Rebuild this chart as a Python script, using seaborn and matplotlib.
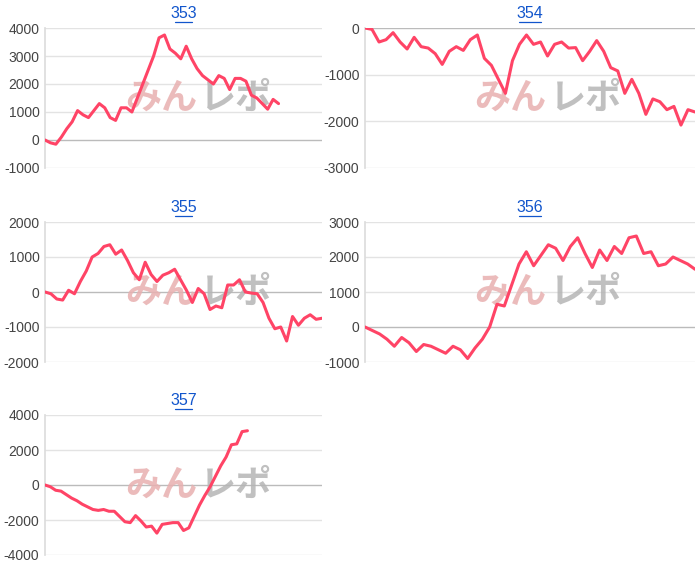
import matplotlib
matplotlib.use("Agg")
import matplotlib.pyplot as plt
import seaborn as sns
import pandas as pd

titles = ["353", "354", "355", "356", "357"]
s353 = [0, -100, -150, 100, 400, 650, 1050, 900, 800, 1050, 1300, 1150, 800, 700, 1150, 1150, 1000, 1500, 2000, 2500, 3000, 3650, 3750, 3250, 3100, 2900, 3350, 2900, 2550, 2300, 2150, 2000, 2300, 2200, 1800, 2200, 2200, 2100, 1600, 1500, 1300, 1100, 1450, 1300]
s354 = [0, -30, -300, -250, -100, -300, -450, -200, -400, -430, -550, -780, -500, -400, -480, -250, -150, -650, -800, -1100, -1400, -700, -350, -150, -350, -300, -600, -350, -300, -430, -420, -700, -500, -270, -500, -850, -920, -1400, -1100, -1400, -1850, -1520, -1580, -1750, -1680, -2080, -1750, -1800]
s355 = [0, -50, -200, -230, 50, -50, 300, 600, 1000, 1100, 1300, 1350, 1080, 1200, 900, 550, 350, 850, 500, 300, 480, 550, 650, 350, 50, -300, 100, -50, -500, -400, -450, 200, 200, 350, 0, -30, -50, -300, -750, -1050, -1000, -1400, -700, -950, -750, -650, -780, -750]
s356 = [0, -100, -200, -350, -550, -300, -450, -700, -500, -550, -650, -750, -550, -650, -900, -600, -350, 0, 650, 600, 1200, 1800, 2150, 1750, 2050, 2350, 2250, 1900, 2300, 2550, 2100, 1700, 2200, 1900, 2300, 2100, 2550, 2600, 2100, 2150, 1750, 1800, 2000, 1900, 1800, 1650]
s357 = [0, -100, -300, -350, -550, -750, -900, -1100, -1250, -1400, -1450, -1400, -1500, -1500, -1800, -2100, -2150, -1750, -2050, -2400, -2350, -2750, -2250, -2200, -2150, -2150, -2600, -2450, -1800, -1150, -600, -100, 500, 1100, 1600, 2300, 2350, 3050, 3100]
series = [s353, s354, s355, s356, s357]
ylims = [(-1000, 4000), (-3000, 0), (-2000, 2000), (-1000, 3000), (-4000, 4000)]
yticks = [[-1000, 0, 1000, 2000, 3000, 4000], [-3000, -2000, -1000, 0],
          [-2000, -1000, 0, 1000, 2000], [-1000, 0, 1000, 2000, 3000],
          [-4000, -2000, 0, 2000, 4000]]
xmax = [51, 47, 47, 45, 52]

sns.set_theme(style="white")
plt.rcParams['font.family'] = ['Liberation Sans', 'Noto Sans CJK JP', 'DejaVu Sans']

W, H = 700, 579
fig = plt.figure(figsize=(7, 5.79), dpi=100)
boxes = [(45, 28, 322, 168), (365, 28, 695, 168),
         (45, 222, 322, 362), (365, 222, 695, 362),
         (45, 415, 322, 555)]
for i, (t, s) in enumerate(zip(titles, series)):
    x0, y0, x1, y1 = boxes[i]
    ax = fig.add_axes([x0 / W, 1 - y1 / H, (x1 - x0) / W, (y1 - y0) / H])
    df = pd.DataFrame({"x": range(len(s)), "y": s})
    lo, hi = ylims[i]
    for v in yticks[i]:
        ax.axhline(v, color="#bbbbbb" if v == 0 else "#e3e3e3", lw=1, zorder=0)
    ax.text(0.55, 0.5, "みん", transform=ax.transAxes, ha="right", va="center",
            fontsize=26, color="#e8b0b0", fontweight="bold", style="italic",
            family=['Noto Sans CJK JP'], alpha=0.85, zorder=1)
    ax.text(0.56, 0.5, "レポ", transform=ax.transAxes, ha="left", va="center",
            fontsize=26, color="#b5b5b5", fontweight="bold", style="italic",
            family=['Noto Sans CJK JP'], alpha=0.85, zorder=1)
    sns.lineplot(data=df, x="x", y="y", ax=ax, color="#ff4466", lw=2.2, zorder=3)
    ax.set_xlim(0, xmax[i])
    ax.set_ylim(lo, hi)
    ax.set_yticks(yticks[i])
    ax.set_yticklabels([str(v) for v in yticks[i]], fontsize=10, color="#444444")
    ax.set_xticks([])
    ax.set_xlabel("")
    ax.set_ylabel("")
    for sp in ["top", "right", "bottom"]:
        ax.spines[sp].set_visible(False)
    ax.spines["left"].set_color("#dddddd")
    ax.tick_params(axis="y", length=0, pad=4)
    ttl = ax.set_title(t, fontsize=11.5, color="#1155cc", pad=7)
    fig.text((x0 + x1) / 2 / W, 1 - (y0 - 16) / H, "", ha="center")
    # underline
    ax.annotate("", xy=(0.515, 1.055), xytext=(0.485, 1.055), xycoords="axes fraction")
    ax.plot([0.468, 0.532], [1.045, 1.045], transform=ax.transAxes, color="#1155cc",
            lw=0.9, clip_on=False)

fig.savefig("out.png", dpi=100, facecolor="white")
